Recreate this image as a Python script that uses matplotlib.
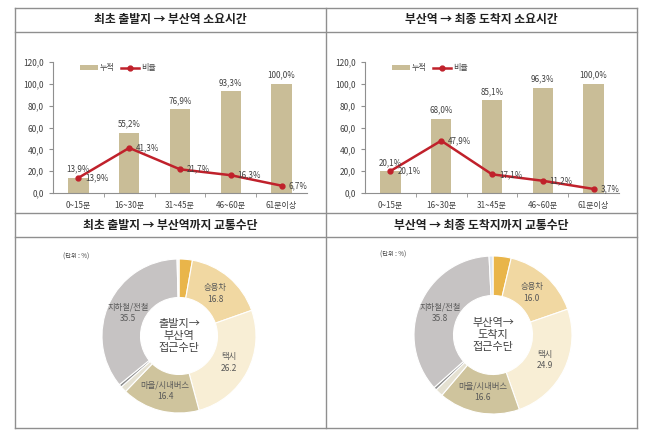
import matplotlib
matplotlib.use("Agg")
import matplotlib.pyplot as plt
from matplotlib.lines import Line2D
from matplotlib.ticker import FuncFormatter, FixedLocator
import numpy as np

plt.rcParams['font.family'] = ['Noto Sans CJK KR', 'DejaVu Sans']

W, H = 653, 433

# dati: tempi di percorrenza
categorie = ['0~15분', '16~30분', '31~45분', '46~60분', '61분이상']
cumulato_1 = [13.9, 55.2, 76.9, 93.3, 100.0]
ratio_1 = [13.9, 41.3, 21.7, 16.3, 6.7]
cumulato_2 = [20.1, 68.0, 85.1, 96.3, 100.0]
ratio_2 = [20.1, 47.9, 17.1, 11.2, 3.7]

# dati: mezzi di trasporto (in senso orario dall'alto)
mezzi = ['기타', '승용차', '택시', '마을/시내버스', '기타2', '기타3', '지하철/전철', '기타4']
quota_1 = [2.8, 16.8, 26.2, 16.4, 1.3, 0.6, 35.5, 0.4]
quota_2 = [3.7, 16.0, 24.9, 16.6, 1.6, 0.6, 35.8, 0.8]
etichette = ['승용차', '택시', '마을/시내버스', '지하철/전철']

titoli = ['최초 출발지 → 부산역 소요시간', '부산역 → 최종 도착지 소요시간',
          '최초 출발지 → 부산역까지 교통수단', '부산역 → 최종 도착지까지 교통수단']
centro_testo = ['출발지→\n부산역\n접근수단', '부산역→\n도착지\n접근수단']

BAR_COLOR = '#c9bd97'
LINE_COLOR = '#c0212b'
GRID = '#8f8f8f'
TXT = '#404040'


def fx(px):
    return px / W


def fy(py):
    return 1 - py / H


def virgola(v):
    return f"{v:.1f}".replace('.', ',')


fig = plt.figure(figsize=(W / 100, H / 100), dpi=100)
fig.patch.set_facecolor('white')

# griglia della tabella
for (x0, y0, x1, y1) in [(15, 8, 637, 8), (15, 32, 637, 32), (15, 213, 637, 213),
                         (15, 237, 637, 237), (15, 428, 637, 428),
                         (15, 8, 15, 428), (326, 8, 326, 428), (637, 8, 637, 428)]:
    fig.add_artist(Line2D([fx(x0), fx(x1)], [fy(y0), fy(y1)], color=GRID, lw=1))

# titoli
for i, (cx, cy) in enumerate([(170, 20), (481, 20), (170, 225), (481, 225)]):
    fig.text(fx(cx), fy(cy), titoli[i], ha='center', va='center',
             fontsize=8.5, fontweight='bold', color='#202020')


def bar_chart(x_left, cumulato, ratio):
    ax = fig.add_axes([fx(x_left), fy(193), 254 / W, 131 / H])
    x = np.arange(len(categorie))
    barre = ax.bar(x, cumulato, width=0.4, color=BAR_COLOR, label='누적')
    linea, = ax.plot(x, ratio, color=LINE_COLOR, lw=1.8, marker='o', markersize=3.5, label='비율')
    ax.set_xlim(-0.5, len(categorie) - 0.5)
    ax.set_ylim(0, 120)
    ax.set_yticks(np.arange(0, 121, 20))
    ax.yaxis.set_major_formatter(FuncFormatter(lambda v, p: virgola(v)))
    ax.set_xticks(x)
    ax.set_xticklabels(categorie)
    ax.xaxis.set_minor_locator(FixedLocator(np.arange(0.5, len(categorie) - 0.5, 1)))
    ax.tick_params(axis='x', which='major', length=0, labelsize=5.8, colors=TXT, pad=6)
    ax.tick_params(axis='x', which='minor', length=3, color=GRID)
    ax.tick_params(axis='y', length=3, color=GRID, labelsize=6, labelcolor=TXT)
    for s in ['top', 'right']:
        ax.spines[s].set_visible(False)
    for s in ['left', 'bottom']:
        ax.spines[s].set_color(GRID)
        ax.spines[s].set_linewidth(0.8)
    ax.set_facecolor('none')

    for xi, v in zip(x, cumulato):
        ax.annotate(virgola(v) + '%', (xi, v), xytext=(0, 3), textcoords='offset points',
                    ha='center', va='bottom', fontsize=5.8, color=TXT)
    for xi, v in zip(x, ratio):
        ax.annotate(virgola(v) + '%', (xi, v), xytext=(5, 0), textcoords='offset points',
                    ha='left', va='center', fontsize=5.8, color=TXT, style='italic')

    leg = ax.legend(handles=[barre, linea], loc='center left', bbox_to_anchor=(0.09, 0.955),
                    ncol=2, frameon=False, fontsize=5.8, handlelength=2.2, handletextpad=0.3,
                    columnspacing=0.8, borderpad=0, handleheight=0.5)
    for t in leg.get_texts():
        t.set_color(TXT)
    leg.get_texts()[1].set_style('italic')
    return ax


bar_chart(53, cumulato_1, ratio_1)
bar_chart(365, cumulato_2, ratio_2)

colori_1 = ['#e9b54a', '#f1d8a2', '#f8eed5', '#cfc49d', '#e5e1d2', '#8e8e8e', '#c6c3c3', '#f3f3f3']
colori_2 = ['#e9b54a', '#f1d8a2', '#f8eed5', '#cfc49d', '#e5e1d2', '#8e8e8e', '#c6c3c3', '#dde5ef']


def pie_chart(cx, cy, r, quota, colori, centro, unita_xy):
    ax = fig.add_axes([fx(cx - r), fy(cy + r), 2 * r / W, 2 * r / H])
    wedges, _ = ax.pie(quota, colors=colori, startangle=90, counterclock=False,
                       wedgeprops=dict(width=0.5, edgecolor='white', linewidth=0.8))
    ax.set_xlim(-1, 1)
    ax.set_ylim(-1, 1)
    for w, nome, v in zip(wedges, mezzi, quota):
        if nome not in etichette:
            continue
        ang = np.deg2rad((w.theta1 + w.theta2) / 2)
        ax.text(0.73 * np.cos(ang), 0.73 * np.sin(ang), f"{nome}\n{v:.1f}",
                ha='center', va='center', fontsize=6, color='#595959', linespacing=1.4)
    ax.text(0, 0, centro, ha='center', va='center', fontsize=8, color=TXT, linespacing=1.25)
    fig.text(fx(unita_xy[0]), fy(unita_xy[1]), '(단위 : %)', ha='left', va='center',
             fontsize=4.5, color=TXT)


pie_chart(179, 336, 77, quota_1, colori_1, centro_testo[0], (63, 257))
pie_chart(493, 335, 79, quota_2, colori_2, centro_testo[1], (380, 255))

plt.savefig('out.png', dpi=100)
